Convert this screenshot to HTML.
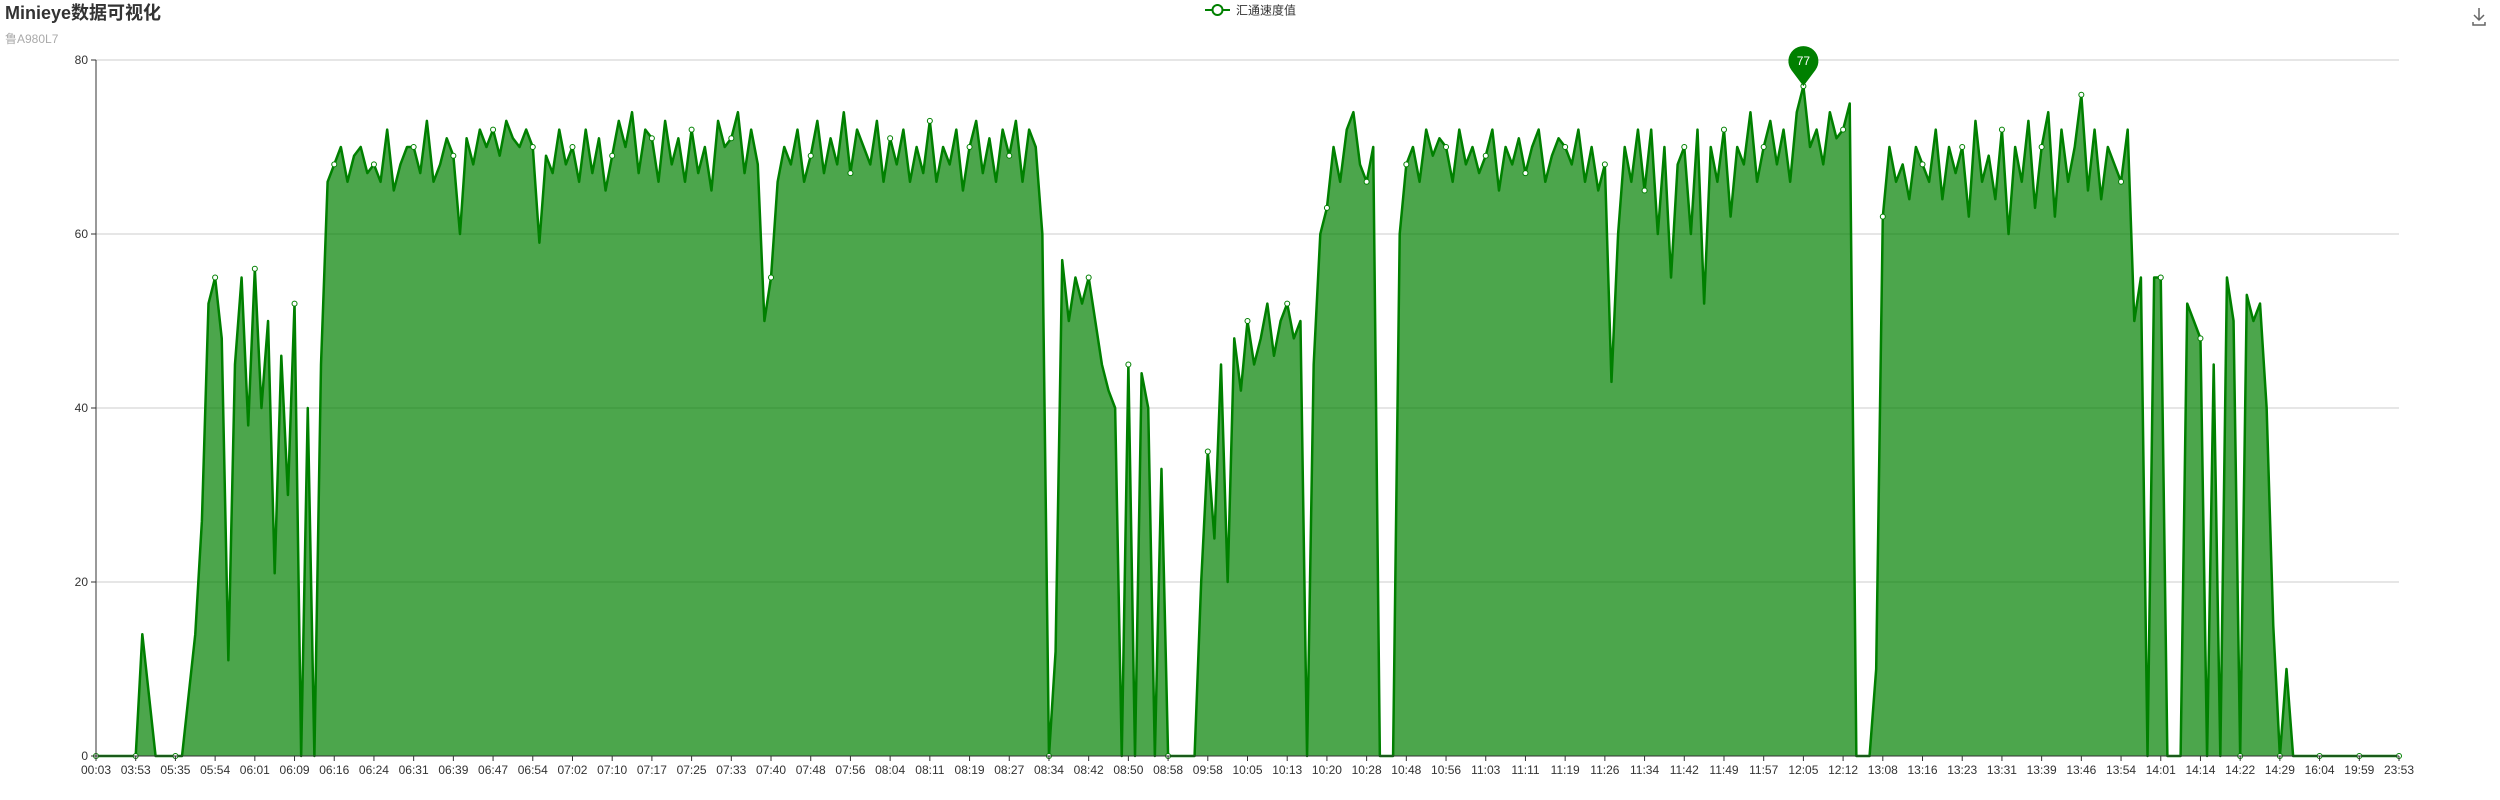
<!DOCTYPE html>
<html><head><meta charset="utf-8">
<style>
html,body{margin:0;padding:0;background:#fff;width:2500px;height:800px;overflow:hidden}
svg{display:block;font-family:"Liberation Sans","Noto Sans CJK SC",sans-serif}
</style></head>
<body>
<svg id="chart" width="2500" height="800" viewBox="0 0 2500 800" xmlns="http://www.w3.org/2000/svg">
  <text x="5" y="19" font-size="18" font-weight="bold" fill="#333">Minieye数据可视化</text>
  <text x="5" y="43" font-size="12" fill="#aaa">鲁A980L7</text>
  <g>
    <line x1="1205" y1="10" x2="1230" y2="10" stroke="#008000" stroke-width="2"/>
    <circle cx="1217.5" cy="10" r="5" fill="#fff" stroke="#008000" stroke-width="2"/>
    <text x="1236" y="14.5" font-size="12" fill="#333">汇通速度值</text>
  </g>
  <g stroke="#666" stroke-width="1.5" fill="none">
    <path d="M2479 8 v12 M2474 15 l5 5 l5 -5 M2473 22 v3 h12 v-3"/>
  </g>
  <g id="grid"></g>
  <g id="plot"></g>
  <g id="axes"></g>
</svg>
<script>
const categories = ["00:03","03:53","05:35","05:54","06:01","06:09","06:16","06:24","06:31","06:39","06:47","06:54","07:02","07:10","07:17","07:25","07:33","07:40","07:48","07:56","08:04","08:11","08:19","08:27","08:34","08:42","08:50","08:58","09:58","10:05","10:13","10:20","10:28","10:48","10:56","11:03","11:11","11:19","11:26","11:34","11:42","11:49","11:57","12:05","12:12","13:08","13:16","13:23","13:31","13:39","13:46","13:54","14:01","14:14","14:22","14:29","16:04","19:59","23:53"];
const yTicks = [0,20,40,60,80];
const speedValues = [
0,0,0,0,0,0,
0,14,7,0,0,0,
0,0,7,14,27,52,
55,48,11,45,55,38,
56,40,50,21,46,30,
52,0,40,0,45,66,
68,70,66,69,70,67,
68,66,72,65,68,70,
70,67,73,66,68,71,
69,60,71,68,72,70,
72,69,73,71,70,72,
70,59,69,67,72,68,
70,66,72,67,71,65,
69,73,70,74,67,72,
71,66,73,68,71,66,
72,67,70,65,73,70,
71,74,67,72,68,50,
55,66,70,68,72,66,
69,73,67,71,68,74,
67,72,70,68,73,66,
71,68,72,66,70,67,
73,66,70,68,72,65,
70,73,67,71,66,72,
69,73,66,72,70,60,
0,12,57,50,55,52,
55,50,45,42,40,0,
45,0,44,40,0,33,
0,0,0,0,0,20,
35,25,45,20,48,42,
50,45,48,52,46,50,
52,48,50,0,45,60,
63,70,66,72,74,68,
66,70,0,0,0,60,
68,70,66,72,69,71,
70,66,72,68,70,67,
69,72,65,70,68,71,
67,70,72,66,69,71,
70,68,72,66,70,65,
68,43,60,70,66,72,
65,72,60,70,55,68,
70,60,72,52,70,66,
72,62,70,68,74,66,
70,73,68,72,66,74,
77,70,72,68,74,71,
72,75,0,0,0,10,
62,70,66,68,64,70,
68,66,72,64,70,67,
70,62,73,66,69,64,
72,60,70,66,73,63,
70,74,62,72,66,70,
76,65,72,64,70,68,
66,72,50,55,0,55,
55,0,0,0,52,50,
48,0,45,0,55,50,
0,53,50,52,40,15,
0,10,0,0,0,0,
0,0,0,0,0,0,
0,0,0,0,0,0,
0];
const perLabel = 6;
const L=96, R=2399, T=60, B=756, YMAX=80;
const NS='http://www.w3.org/2000/svg';
const xScale = i => L + (R-L) * i / (speedValues.length-1);
const yScale = v => B - (B-T) * v / YMAX;
function mk(tag, attrs, parent){const e=document.createElementNS(NS,tag);for(const k in attrs)e.setAttribute(k,attrs[k]);parent.appendChild(e);return e;}
const grid=document.getElementById('grid'), plot=document.getElementById('plot'), axes=document.getElementById('axes');
yTicks.forEach(t=>{
  if(t>0){const g=mk('line',{x1:L,x2:R,y1:yScale(t),y2:yScale(t),stroke:'#ccc','stroke-width':1},grid);
  
  }
  mk('line',{x1:L-5,x2:L,y1:yScale(t),y2:yScale(t),stroke:'#333'},axes);
  const tx=mk('text',{x:L-8,y:yScale(t)+4,'text-anchor':'end','font-size':12,fill:'#333'},axes);
  tx.textContent=t;
  
  
});
let pts=speedValues.map((v,i)=>xScale(i).toFixed(2)+','+yScale(v).toFixed(2));
const area=mk('path',{d:'M'+xScale(0)+','+B+' L'+pts.join(' L')+' L'+xScale(speedValues.length-1)+','+B+' Z',fill:'rgba(0,128,0,0.7)'},plot);


const line=mk('polyline',{points:pts.join(' '),fill:'none',stroke:'#008000','stroke-width':2.5,'stroke-linejoin':'round'},plot);


categories.forEach((c,k)=>{
  const i=k*perLabel, x=xScale(i);
  const dot=mk('circle',{cx:x,cy:yScale(speedValues[i]),r:2.5,fill:'#fff',stroke:'#008000','stroke-width':1},plot);
  
  
  mk('line',{x1:x,x2:x,y1:B,y2:B+5,stroke:'#333'},axes);
  const tx=mk('text',{x:x,y:B+18,'text-anchor':'middle','font-size':12,fill:'#333'},axes);
  tx.textContent=c;
  
  
});
mk('line',{x1:L,x2:L,y1:T,y2:B,stroke:'#333'},axes);
mk('line',{x1:L,x2:R,y1:B,y2:B,stroke:'#333'},axes);
// max mark point
let mi=0;speedValues.forEach((v,i)=>{if(v>speedValues[mi])mi=i;});
const mx=xScale(mi), my=yScale(speedValues[mi]);
const pin=mk('g',{},axes);


const cy=my-25;
mk('path',{d:`M${mx},${my} L${mx-12},${cy+9} A15,15 0 1 1 ${mx+12},${cy+9} Z`,fill:'#008000'},pin);
const pt=mk('text',{x:mx,y:cy+4,'text-anchor':'middle','font-size':12,fill:'#fff'},pin);
pt.textContent=speedValues[mi];
</script>
</body></html>
